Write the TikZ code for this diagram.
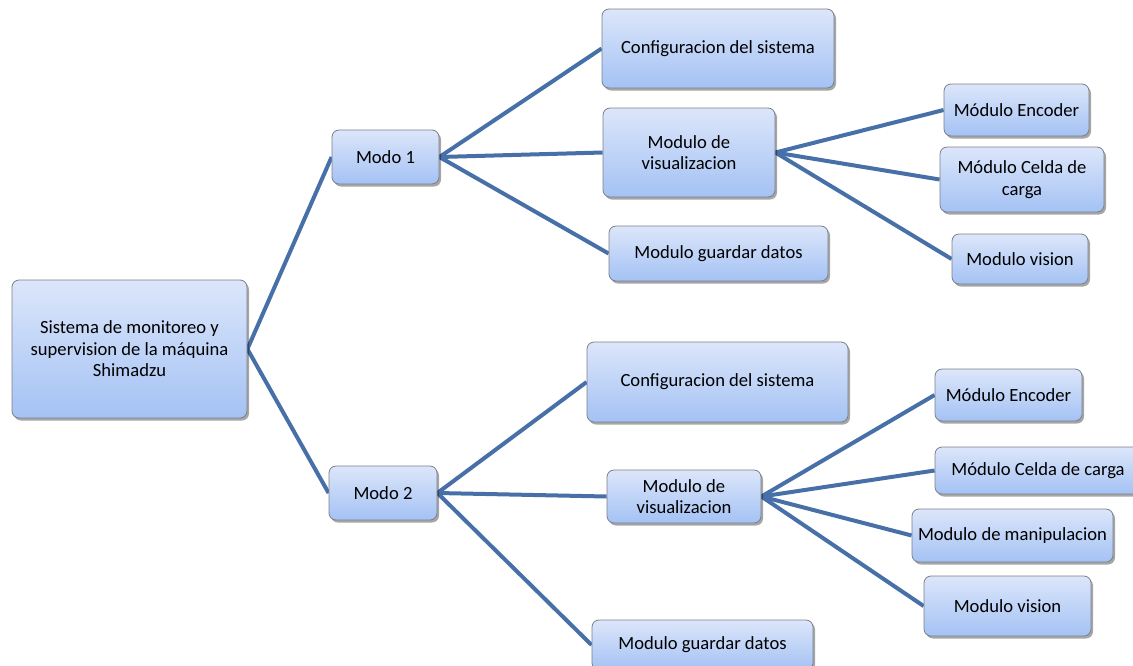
\documentclass[tikz,border=0pt]{standalone}
\usepackage{fontspec}
\setmainfont{Carlito}
\usetikzlibrary{shadows}
\pgfdeclarelayer{background}
\pgfsetlayers{background,main}
\definecolor{linkblue}{HTML}{4870A8}
\definecolor{boxtop}{HTML}{DCE6FA}
\definecolor{boxbot}{HTML}{A4C2F4}
\definecolor{boxedge}{HTML}{7A7F8A}
\tikzset{
  box/.style={draw=boxedge, line width=0.8pt, rounded corners=7pt,
    top color=boxtop, bottom color=boxbot, inner sep=0pt, align=center,
    font=\fontsize{18.6}{21.5}\selectfont, text=black,
    drop shadow={shadow xshift=2pt, shadow yshift=-2.5pt, opacity=0.35, fill=black}},
  link/.style={draw=linkblue, line width=4pt}
}
\begin{document}
\begin{tikzpicture}[x=1pt,y=-1pt]
\useasboundingbox (0,0) rectangle (1133,665);
\node[box, minimum width=235pt, minimum height=138pt] (root) at (129.5,349) {Sistema de monitoreo y\\supervision de la máquina\\Shimadzu};
\node[box, minimum width=107pt, minimum height=54pt] (m1) at (385.5,157) {Modo 1};
\node[box, minimum width=108pt, minimum height=54pt] (m2) at (383,493) {Modo 2};
\node[box, minimum width=232pt, minimum height=79pt] (c1) at (718,48.5) {Configuracion del sistema};
\node[box, minimum width=172pt, minimum height=89pt] (v1) at (689,152.5) {Modulo de\\visualizacion};
\node[box, minimum width=219pt, minimum height=55pt] (g1) at (718.5,253.5) {Modulo guardar datos};
\node[box, minimum width=145pt, minimum height=52pt] (e1) at (1016.5,110) {Módulo Encoder};
\node[box, minimum width=164pt, minimum height=65pt] (l1) at (1022,179.5) {Módulo Celda de\\carga};
\node[box, minimum width=136pt, minimum height=50pt] (s1) at (1020,259) {Modulo vision};
\node[box, minimum width=261pt, minimum height=80pt] (c2) at (717.5,382) {Configuracion del sistema};
\node[box, minimum width=154pt, minimum height=53pt] (v2) at (684,496.5) {Modulo de\\visualizacion};
\node[box, minimum width=221pt, minimum height=50pt] (g2) at (702.5,645) {Modulo guardar datos};
\node[box, minimum width=147pt, minimum height=52pt] (e2) at (1008.5,395) {Módulo Encoder};
\node[box, minimum width=206pt, minimum height=47pt] (l2) at (1038,470.5) {Módulo Celda de carga};
\node[box, minimum width=201pt, minimum height=53pt] (p2) at (1012.5,535.5) {Modulo de manipulacion};
\node[box, minimum width=167pt, minimum height=60pt] (s2) at (1007.5,606) {Modulo vision};
\begin{pgfonlayer}{background}
\draw[link] (root.east) -- (m1.west);
\draw[link] (root.east) -- (m2.west);
\draw[link] (m1.east) -- (c1.west);
\draw[link] (m1.east) -- (v1.west);
\draw[link] (m1.east) -- (g1.west);
\draw[link] (v1.east) -- (e1.west);
\draw[link] (v1.east) -- (l1.west);
\draw[link] (v1.east) -- (s1.west);
\draw[link] (m2.east) -- (c2.west);
\draw[link] (m2.east) -- (v2.west);
\draw[link] (m2.east) -- (g2.west);
\draw[link] (v2.east) -- (e2.west);
\draw[link] (v2.east) -- (l2.west);
\draw[link] (v2.east) -- (p2.west);
\draw[link] (v2.east) -- (s2.west);
\end{pgfonlayer}
\end{tikzpicture}
\end{document}
